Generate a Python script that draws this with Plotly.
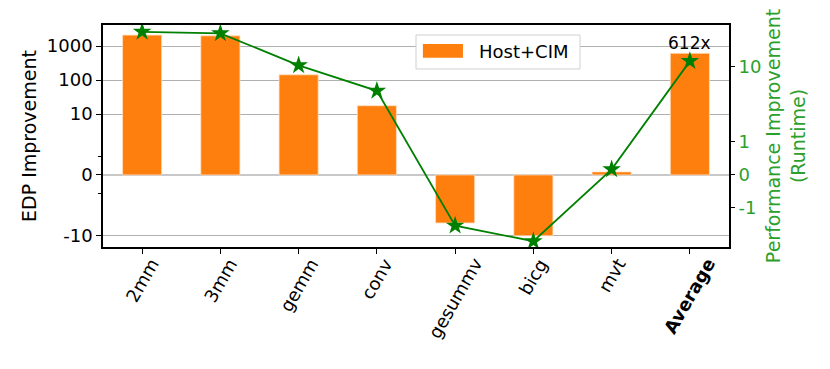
"""
EDP improvement (bars, symlog-like left axis) and runtime improvement
(green line with stars, symlog-like right axis)
"""
import math
import plotly.graph_objects as go

# ===== データ =====
categories = ["2mm", "3mm", "gemm", "conv", "gesummv", "bicg", "mvt", "Average"]
edp_improvement = [2100, 2000, 143, 17.6, -7.9, -10, 0.5, 612]
perf_improvement = [28.8, 27.5, 10.3, 4.7, -1.76, -2.84, 0.15, 11.7]

edp_ticks = [-10, 0, 10, 100, 1000]
edp_minor = [-3, 3]
perf_ticks = [-1, 0, 1, 10]

tick_labels = ["2mm", "3mm", "gemm", "conv", "gesummv", "bicg", "mvt", "<b>Average</b>"]
legend_label = "Host+CIM"


def symlog(v, linthresh, linspan):
    """matplotlib の symlog 風変換（線形領域の幅 = linspan decades）"""
    a = abs(v)
    lin = min(a, linthresh) / linthresh * linspan
    lg = math.log10(a / linthresh) if a > linthresh else 0.0
    return math.copysign(lin + lg, v) if v != 0 else 0.0


def left_t(v):
    return symlog(v, 10, 1.79)


def right_t(v):
    return symlog(v, 1, 0.44)


FONT = "DejaVu Sans"
ORANGE = "#ff7f0e"
GREEN = "#008000"
GREEN_TXT = "#2ca02c"

fig = go.Figure()

fig.add_trace(go.Bar(
    x=categories,
    y=[left_t(v) for v in edp_improvement],
    name=legend_label,
    marker=dict(color=ORANGE, line=dict(color="#ffe0c0", width=0.8)),
    width=0.5,
    showlegend=False,
    yaxis="y",
))

fig.add_trace(go.Scatter(
    x=categories,
    y=[right_t(v) for v in perf_improvement],
    mode="lines+markers",
    line=dict(color=GREEN, width=1.8),
    marker=dict(symbol="star", size=14, color=GREEN),
    showlegend=False,
    yaxis="y2",
))

# 平均値ラベル
fig.add_annotation(
    x=categories[-1], y=left_t(edp_improvement[-1]),
    text=f"{edp_improvement[-1]:.0f}x",
    showarrow=False, yanchor="bottom", yshift=-2,
    font=dict(family=FONT, size=17, color="black"),
)

# x軸ラベル（matplotlib風に回転した文字の中心を目盛に合わせる）
for cat, lab in zip(categories, tick_labels):
    fig.add_annotation(
        x=cat, xref="x", y=0, yref="paper",
        text=lab, textangle=-60,
        showarrow=False, xanchor="center", yanchor="top", yshift=-5,
        font=dict(family=FONT, size=18, color="black"),
    )

# 凡例（matplotlib風の横長パッチ）
fig.add_shape(type="rect", xref="paper", yref="paper",
              x0=0.5, x1=0.762, y0=0.802, y1=0.955,
              line=dict(color="#d0d0d0", width=1), fillcolor="white")
fig.add_shape(type="rect", xref="paper", yref="paper",
              x0=0.511, x1=0.575, y0=0.853, y1=0.914,
              line=dict(width=0), fillcolor=ORANGE)
fig.add_annotation(
    xref="paper", yref="paper", x=0.598, y=0.879,
    text=legend_label, showarrow=False, xanchor="left", yanchor="middle",
    font=dict(family=FONT, size=18, color="black"),
)

# ページの body 余白(8px)を差し引いた大きさ
fig.update_layout(
    width=822, height=361,
    margin=dict(l=95, r=101, t=17, b=122),
    plot_bgcolor="white",
    paper_bgcolor="white",
    font=dict(family=FONT, size=18, color="black"),
    showlegend=False,
    xaxis=dict(
        type="category",
        range=[-0.5, 7.5],
        automargin=False,
        showticklabels=False,
        ticks="outside", ticklen=5, tickcolor="black",
        showline=True, linecolor="black", linewidth=1.5, mirror=True,
        showgrid=False,
    ),
    yaxis=dict(
        range=[-2.12, 4.41],
        automargin=False,
        tickmode="array",
        tickvals=[left_t(v) for v in edp_ticks],
        ticktext=[str(v) for v in edp_ticks],
        ticks="outside", ticklen=5, tickcolor="black",
        showline=True, linecolor="black", linewidth=1.5, mirror=True,
        showgrid=True, gridcolor="#b0b0b0", gridwidth=1,
        zeroline=True, zerolinecolor="#c8c8c8", zerolinewidth=2,
        minor=dict(tickmode="array", tickvals=[left_t(v) for v in edp_minor],
                   ticks="outside", ticklen=3, tickcolor="black", showgrid=False),
        title=dict(text="EDP Improvement", font=dict(family=FONT, size=19), standoff=5),
        tickfont=dict(family=FONT, size=18),
    ),
    yaxis2=dict(
        overlaying="y", side="right",
        range=[-0.97, 1.99],
        automargin=False,
        tickmode="array",
        tickvals=[right_t(v) for v in perf_ticks],
        ticktext=[str(v) for v in perf_ticks],
        ticks="outside", ticklen=5, tickcolor="black",
        showgrid=False, zeroline=False, showline=False,
        title=dict(text="Performance Improvement<br>(Runtime)",
                   font=dict(family=FONT, size=19, color=GREEN_TXT), standoff=6),
        tickfont=dict(family=FONT, size=18, color=GREEN_TXT),
    ),
)

fig.write_html("out.html")
